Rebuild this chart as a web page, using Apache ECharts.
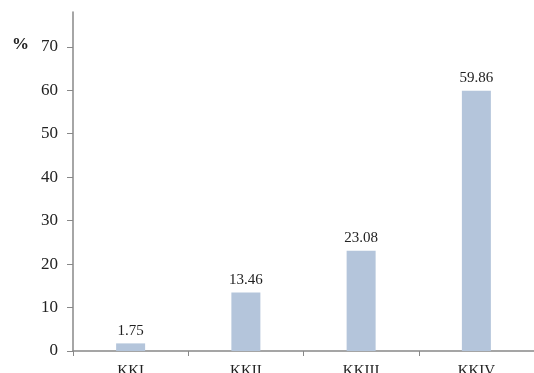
<!DOCTYPE html>
<html>
<head>
<meta charset="utf-8">
<script src="https://cdn.jsdelivr.net/npm/echarts@6/dist/echarts.min.js"></script>
<style>
html, body { margin: 0; padding: 0; background: #fff; }
#chart { width: 534px; height: 373px; }
</style>
</head>
<body>
<div id="chart"></div>
<script>
var categories = ['KKI', 'KKII', 'KKIII', 'KKIV'];
var values = [1.75, 13.46, 23.08, 59.86];
var yTicks = [0, 10, 20, 30, 40, 50, 60, 70];

var font = '"Liberation Serif", "DejaVu Serif", serif';
var myChart = echarts.init(document.getElementById('chart'));
var option = {
    animation: false,
    grid: {
        left: 73,
        right: 0,
        top: 12,
        bottom: 22,
        containLabel: false,
        outerBoundsMode: 'none'
    },
    graphic: [{
        type: 'text',
        left: 12,
        top: 36,
        style: {
            text: '%',
            font: 'bold 17px ' + font,
            fill: '#222'
        }
    }],
    xAxis: {
        type: 'category',
        data: categories,
        axisLine: { lineStyle: { color: '#888', width: 1.5 } },
        axisTick: { show: true, length: 5, lineStyle: { color: '#888' } },
        axisLabel: {
            color: '#222',
            fontFamily: font,
            fontSize: 15,
            margin: 13
        }
    },
    yAxis: {
        type: 'value',
        min: 0,
        max: 78,
        interval: 10,
        splitLine: { show: false },
        axisLine: { show: true, lineStyle: { color: '#888', width: 1.5 } },
        axisTick: { show: true, length: 6, lineStyle: { color: '#888' }, customValues: yTicks },
        axisLabel: {
            color: '#222',
            fontFamily: font,
            fontSize: 17,
            margin: 15,
            customValues: yTicks
        }
    },
    series: [{
        type: 'bar',
        data: values,
        barWidth: 29,
        itemStyle: { color: '#b4c5db' },
        label: {
            show: true,
            position: 'top',
            distance: 5,
            color: '#222',
            fontFamily: font,
            fontSize: 15
        }
    }]
};
myChart.setOption(option);
</script>
</body>
</html>
